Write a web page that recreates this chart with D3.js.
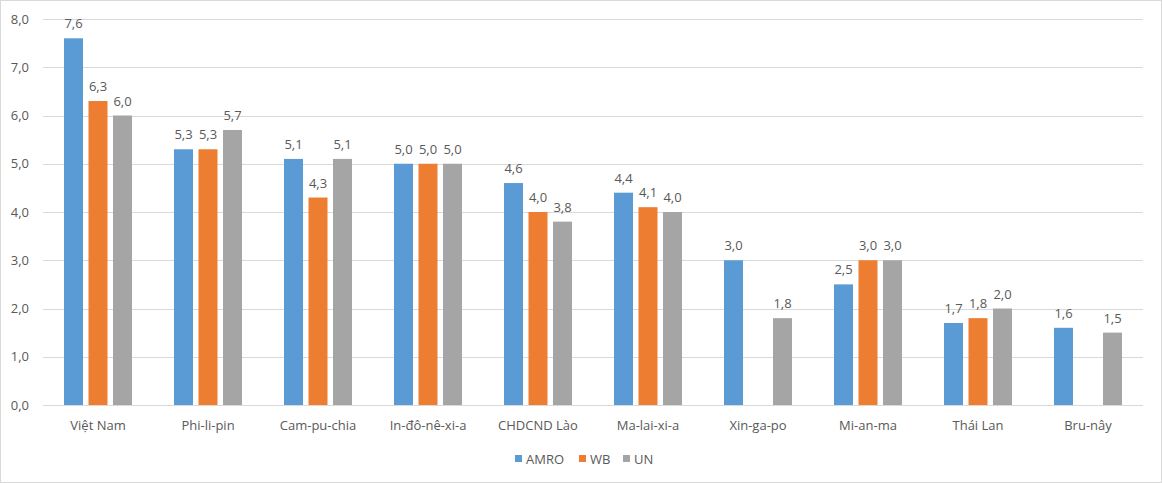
<!DOCTYPE html>
<html>
<head>
<meta charset="utf-8">
<script src="https://cdn.jsdelivr.net/npm/d3@7"></script>
<style>
  body { margin: 0; background: #fff; }
  svg text { font-family: "Open Sans", "Liberation Sans", sans-serif; fill: #595959; }
</style>
</head>
<body>
<svg id="chart" width="1162" height="483"></svg>
<script>
// quốc gia
var countries = ["Việt Nam", "Phi-li-pin", "Cam-pu-chia", "In-đô-nê-xi-a", "CHDCND Lào",
    "Ma-lai-xi-a", "Xin-ga-po", "Mi-an-ma", "Thái Lan", "Bru-nây"];
// dự báo theo từng tổ chức
var amro = [7.6, 5.3, 5.1, 5.0, 4.6, 4.4, 3.0, 2.5, 1.7, 1.6];
var wb = [6.3, 5.3, 4.3, 5.0, 4.0, 4.1, null, 3.0, 1.8, null];
var un = [6.0, 5.7, 5.1, 5.0, 3.8, 4.0, 1.8, 3.0, 2.0, 1.5];
var seriesNames = ["AMRO", "WB", "UN"];
var yTicks = [0, 1, 2, 3, 4, 5, 6, 7, 8];

var colors = ["#5B9BD5", "#ED7D31", "#A5A5A5"];
var allSeries = [amro, wb, un];

var svg = d3.select("#chart");
var W = 1162, H = 483;
var margin = {left: 43, right: 19, top: 19, bottom: 78};

// khung ngoài
svg.append("rect")
    .attr("x", 0.5).attr("y", 0.5)
    .attr("width", W - 1).attr("height", H - 1)
    .attr("fill", "#fff")
    .attr("stroke", "#d9d9d9");

var x0 = d3.scaleBand()
    .domain(countries)
    .range([margin.left, W - margin.right]);

var x1 = d3.scaleBand()
    .domain(seriesNames)
    .range([0, x0.bandwidth()])
    .paddingInner(0.2245)
    .paddingOuter(0.857);

var y = d3.scaleLinear()
    .domain([0, 8])
    .range([H - margin.bottom, margin.top]);

// lưới
svg.append("g")
    .selectAll("line")
    .data(yTicks)
    .join("line")
    .attr("x1", margin.left)
    .attr("x2", W - margin.right)
    .attr("y1", d => Math.round(y(d)) + 0.5)
    .attr("y2", d => Math.round(y(d)) + 0.5)
    .attr("stroke", "#d9d9d9")
    .attr("stroke-width", 1);

var fmt = d => d3.format(".1f")(d).replace(".", ",");

// trục y
svg.append("g")
    .selectAll("text")
    .data(yTicks)
    .join("text")
    .attr("x", 29)
    .attr("y", d => y(d))
    .attr("dy", "0.35em")
    .attr("text-anchor", "end")
    .style("font-size", "13px")
    .text(fmt);

// trục x
svg.append("g")
    .selectAll("text")
    .data(countries)
    .join("text")
    .attr("x", d => x0(d) + x0.bandwidth() / 2)
    .attr("y", 430)
    .attr("text-anchor", "middle")
    .style("font-size", "13px")
    .text(d => d);

// cột
seriesNames.forEach((s, si) => {
    var data = countries.map((c, i) => ({c: c, v: allSeries[si][i]}))
        .filter(d => d.v !== null);
    var g = svg.append("g");
    g.selectAll("rect")
        .data(data)
        .join("rect")
        .attr("x", d => x0(d.c) + x1(s))
        .attr("width", x1.bandwidth())
        .attr("y", d => y(d.v))
        .attr("height", d => y(0) - y(d.v))
        .attr("fill", colors[si]);
    g.selectAll("text")
        .data(data)
        .join("text")
        .attr("x", d => x0(d.c) + x1(s) + x1.bandwidth() / 2)
        .attr("y", d => y(d.v) - 10)
        .attr("text-anchor", "middle")
        .style("font-size", "13px")
        .text(d => fmt(d.v));
});

// chú thích
var legendX = [515, 579, 623];
var legend = svg.append("g")
    .selectAll("g")
    .data(seriesNames)
    .join("g")
    .attr("transform", (d, i) => "translate(" + legendX[i] + ",459)");
legend.append("rect")
    .attr("x", 0).attr("y", -4)
    .attr("width", 7).attr("height", 7)
    .attr("fill", (d, i) => colors[i]);
legend.append("text")
    .attr("x", 11)
    .attr("y", 0)
    .attr("dy", "0.35em")
    .style("font-size", "13px")
    .text(d => d);
</script>
</body>
</html>
